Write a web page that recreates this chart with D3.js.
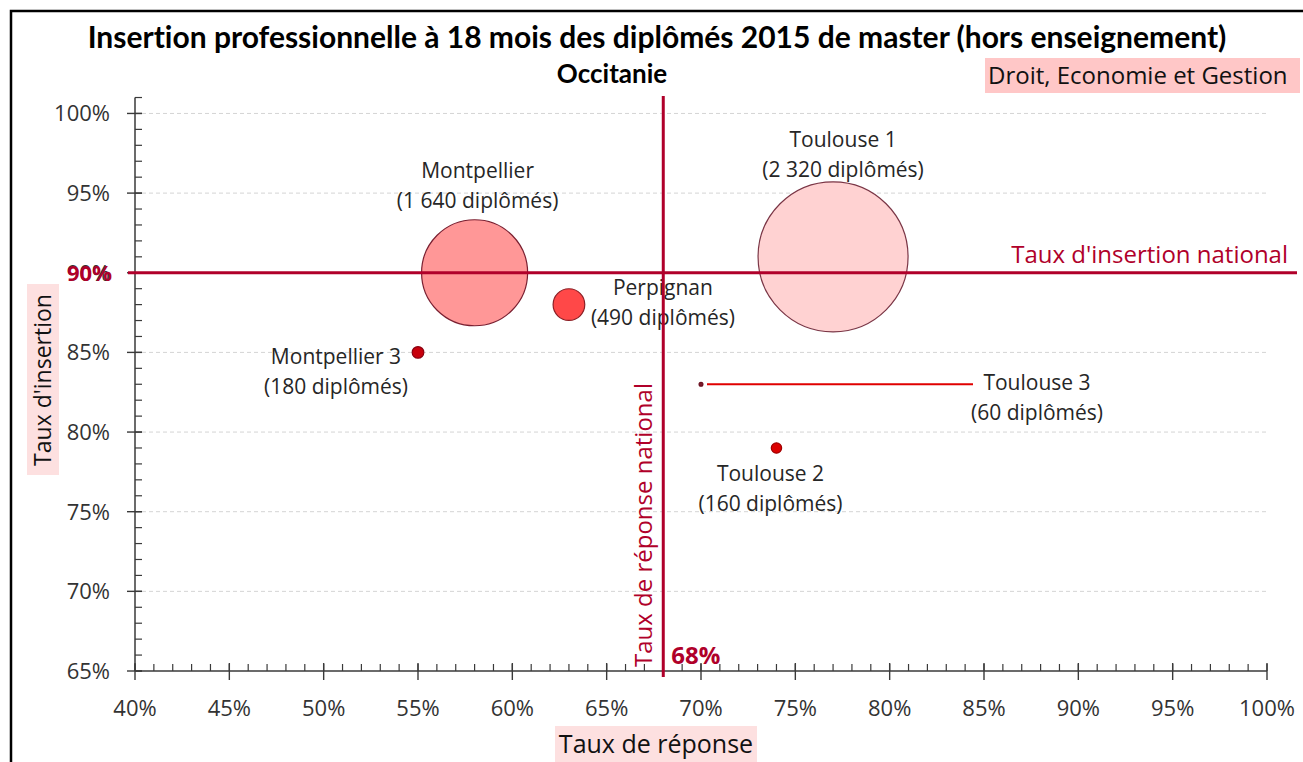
<!DOCTYPE html>
<html>
<head>
<meta charset="utf-8">
<script src="https://cdn.jsdelivr.net/npm/d3@7"></script>
<style>
  body { margin: 0; background: #fff; }
  svg { display: block; }
  text { font-family: 'Open Sans', sans-serif; font-variant-ligatures: none; }
</style>
</head>
<body>
<svg id="chart" width="1303" height="762"></svg>
<script>
// données
var universites = ['Montpellier', 'Toulouse 1', 'Perpignan', 'Montpellier 3', 'Toulouse 3', 'Toulouse 2'];
var tauxReponse = [0.58, 0.77, 0.63, 0.55, 0.70, 0.74];
var tauxInsertion = [0.90, 0.91, 0.88, 0.85, 0.83, 0.79];
var diplomes = [1640, 2320, 490, 180, 60, 160];
var xTicks = [0.40, 0.45, 0.50, 0.55, 0.60, 0.65, 0.70, 0.75, 0.80, 0.85, 0.90, 0.95, 1.00];
var yTicks = [0.65, 0.70, 0.75, 0.80, 0.85, 0.90, 0.95, 1.00];
var tauxReponseNational = 0.68;
var tauxInsertionNational = 0.90;

// mise en forme des bulles (couleurs et position des étiquettes)
var fills = ['#ff9797', '#ffd2d2', '#ff4848', '#c8000c', '#7d1b2b', '#dc0000'];
var strokes = ['#7a1f30', '#7a3545', '#8c1f25', '#8c0010', '#6a1020', '#a00000'];
var labelOffsets = [[3, -95], [10, -110], [94, -10], [-82, 12], [336, 6], [-6, 33]];

var svg = d3.select('#chart');
var red = '#b0002a';

var x = d3.scaleLinear().domain([0.40, 1.00]).range([135, 1267]);
var y = d3.scaleLinear().domain([0.65, 1.01]).range([671, 671 - 36 * 15.93]);
var r = d3.scaleLinear().domain([0, 2320]).range([0, 75]);

var pct = d3.format('.0%');
var fr = d3.formatLocale({ decimal: ',', thousands: ' ', grouping: [3], currency: ['', ' €'] });
var nb = fr.format(',d');

var data = universites.map(function (u, i) {
	return { name: u, x: tauxReponse[i], y: tauxInsertion[i], n: diplomes[i], i: i };
});

// cadre
svg.append('path')
	.attr('d', 'M11,762 V11 H1303')
	.attr('fill', 'none')
	.attr('stroke', '#000')
	.attr('stroke-width', 2.5);

// titres
svg.append('text')
	.attr('x', 657).attr('y', 48)
	.attr('text-anchor', 'middle')
	.style('font-family', 'Lato, sans-serif')
	.style('font-weight', 'bold')
	.style('font-size', '30px')
	.attr('fill', '#000')
	.text('Insertion professionnelle à 18 mois des diplômés 2015 de master (hors enseignement)');

svg.append('text')
	.attr('x', 612).attr('y', 83)
	.attr('text-anchor', 'middle')
	.style('font-family', 'Lato, sans-serif')
	.style('font-weight', 'bold')
	.style('font-size', '26px')
	.attr('fill', '#000')
	.text('Occitanie');

svg.append('rect')
	.attr('x', 985).attr('y', 58).attr('width', 315).attr('height', 35)
	.attr('fill', '#ffc7c7');
svg.append('text')
	.attr('x', 988).attr('y', 84)
	.style('font-size', '24px')
	.attr('fill', '#111')
	.text('Droit, Economie et Gestion');

// grille
svg.append('g')
	.selectAll('line')
	.data(yTicks.filter(function (d) { return d > 0.65; }))
	.enter().append('line')
	.attr('x1', x(0.40)).attr('x2', x(1.00))
	.attr('y1', function (d) { return y(d); })
	.attr('y2', function (d) { return y(d); })
	.attr('stroke', '#d4d4d4')
	.attr('stroke-dasharray', '4,3');

// axes
var axisColor = '#3a3a3a';
var minorX = d3.range(40, 101).map(function (d) { return d / 100; });
var minorY = d3.range(65, 102).map(function (d) { return d / 100; });

var gx = svg.append('g');
gx.append('line')
	.attr('x1', x(0.40)).attr('x2', x(1.00))
	.attr('y1', y(0.65)).attr('y2', y(0.65))
	.attr('stroke', axisColor).attr('stroke-width', 1.5);
gx.selectAll('.minor').data(minorX).enter().append('line')
	.attr('x1', function (d) { return x(d); }).attr('x2', function (d) { return x(d); })
	.attr('y1', y(0.65) - 7).attr('y2', y(0.65))
	.attr('stroke', axisColor).attr('stroke-width', 1.2);
gx.selectAll('.major').data(xTicks).enter().append('line')
	.attr('x1', function (d) { return x(d); }).attr('x2', function (d) { return x(d); })
	.attr('y1', y(0.65) - 8).attr('y2', y(0.65) + 9)
	.attr('stroke', axisColor).attr('stroke-width', 1.4);
gx.selectAll('text').data(xTicks).enter().append('text')
	.attr('x', function (d) { return x(d); })
	.attr('y', 716)
	.attr('text-anchor', 'middle')
	.style('font-size', '22px')
	.attr('fill', '#333')
	.text(function (d) { return pct(d); });

var gy = svg.append('g');
gy.append('line')
	.attr('x1', x(0.40)).attr('x2', x(0.40))
	.attr('y1', y(0.65)).attr('y2', y(1.01))
	.attr('stroke', axisColor).attr('stroke-width', 1.5);
gy.selectAll('.minor').data(minorY).enter().append('line')
	.attr('x1', x(0.40)).attr('x2', x(0.40) + 7)
	.attr('y1', function (d) { return y(d); }).attr('y2', function (d) { return y(d); })
	.attr('stroke', axisColor).attr('stroke-width', 1.2);
gy.selectAll('.major').data(yTicks).enter().append('line')
	.attr('x1', x(0.40) - 8).attr('x2', x(0.40) + 7)
	.attr('y1', function (d) { return y(d); }).attr('y2', function (d) { return y(d); })
	.attr('stroke', axisColor).attr('stroke-width', 1.4);
gy.selectAll('text').data(yTicks).enter().append('text')
	.attr('x', 110)
	.attr('y', function (d) { return y(d); })
	.attr('dy', '0.36em')
	.attr('text-anchor', 'end')
	.style('font-size', '22px')
	.attr('fill', '#333')
	.text(function (d) { return pct(d); });

// titres des axes
svg.append('rect')
	.attr('x', 27).attr('y', 284).attr('width', 32).attr('height', 191)
	.attr('fill', '#fde0e0');
svg.append('text')
	.attr('transform', 'translate(51,380) rotate(-90)')
	.attr('text-anchor', 'middle')
	.style('font-size', '23px')
	.attr('fill', '#111')
	.text("Taux d'insertion");

svg.append('rect')
	.attr('x', 555).attr('y', 726).attr('width', 202).attr('height', 36)
	.attr('fill', '#fde0e0');
svg.append('text')
	.attr('x', 656).attr('y', 753)
	.attr('text-anchor', 'middle')
	.style('font-size', '25px')
	.attr('fill', '#111')
	.text('Taux de réponse');

// bulles
var bubbles = svg.append('g');
bubbles.selectAll('circle')
	.data(data)
	.enter().append('circle')
	.attr('cx', function (d) { return x(d.x); })
	.attr('cy', function (d) { return y(d.y); })
	.attr('r', function (d) { return r(d.n); })
	.attr('fill', function (d) { return fills[d.i]; })
	.attr('stroke', function (d) { return strokes[d.i]; })
	.attr('stroke-width', 1.2);

// trait de rappel pour Toulouse 3
var t3 = data[4];
svg.append('line')
	.attr('x1', x(t3.x) + 6).attr('x2', x(t3.x) + 272)
	.attr('y1', y(t3.y)).attr('y2', y(t3.y))
	.attr('stroke', '#e00000').attr('stroke-width', 2);

// étiquettes
var labels = svg.append('g');
data.forEach(function (d) {
	var off = labelOffsets[d.i];
	var t = labels.append('text')
		.attr('text-anchor', 'middle')
		.style('font-size', '21px')
		.attr('fill', '#262626');
	t.append('tspan')
		.attr('x', x(d.x) + off[0])
		.attr('y', y(d.y) + off[1])
		.text(d.name);
	t.append('tspan')
		.attr('x', x(d.x) + off[0])
		.attr('y', y(d.y) + off[1] + 30)
		.text('(' + nb(d.n) + ' diplômés)');
});

// références nationales
svg.append('line')
	.attr('x1', 128).attr('x2', 1297)
	.attr('y1', y(tauxInsertionNational)).attr('y2', y(tauxInsertionNational))
	.attr('stroke', red).attr('stroke-width', 3);
svg.append('line')
	.attr('x1', x(tauxReponseNational)).attr('x2', x(tauxReponseNational))
	.attr('y1', 96).attr('y2', 677)
	.attr('stroke', red).attr('stroke-width', 3);

svg.append('text')
	.attr('x', 112)
	.attr('y', y(tauxInsertionNational))
	.attr('dy', '0.36em')
	.attr('text-anchor', 'end')
	.style('font-size', '22px')
	.style('font-weight', 'bold')
	.attr('fill', red)
	.text(pct(tauxInsertionNational));

svg.append('text')
	.attr('x', x(tauxReponseNational) + 8)
	.attr('y', y(0.65) - 7)
	.style('font-size', '24px')
	.style('font-weight', 'bold')
	.attr('fill', red)
	.text(pct(tauxReponseNational));

svg.append('text')
	.attr('x', 1288)
	.attr('y', y(tauxInsertionNational) - 10)
	.attr('text-anchor', 'end')
	.style('font-size', '24px')
	.attr('fill', red)
	.text("Taux d'insertion national");

svg.append('text')
	.attr('transform', 'translate(' + (x(tauxReponseNational) - 11) + ',' + (y(0.65) - 4) + ') rotate(-90)')
	.style('font-size', '24px')
	.attr('fill', red)
	.text('Taux de réponse national');
</script>
</body>
</html>
